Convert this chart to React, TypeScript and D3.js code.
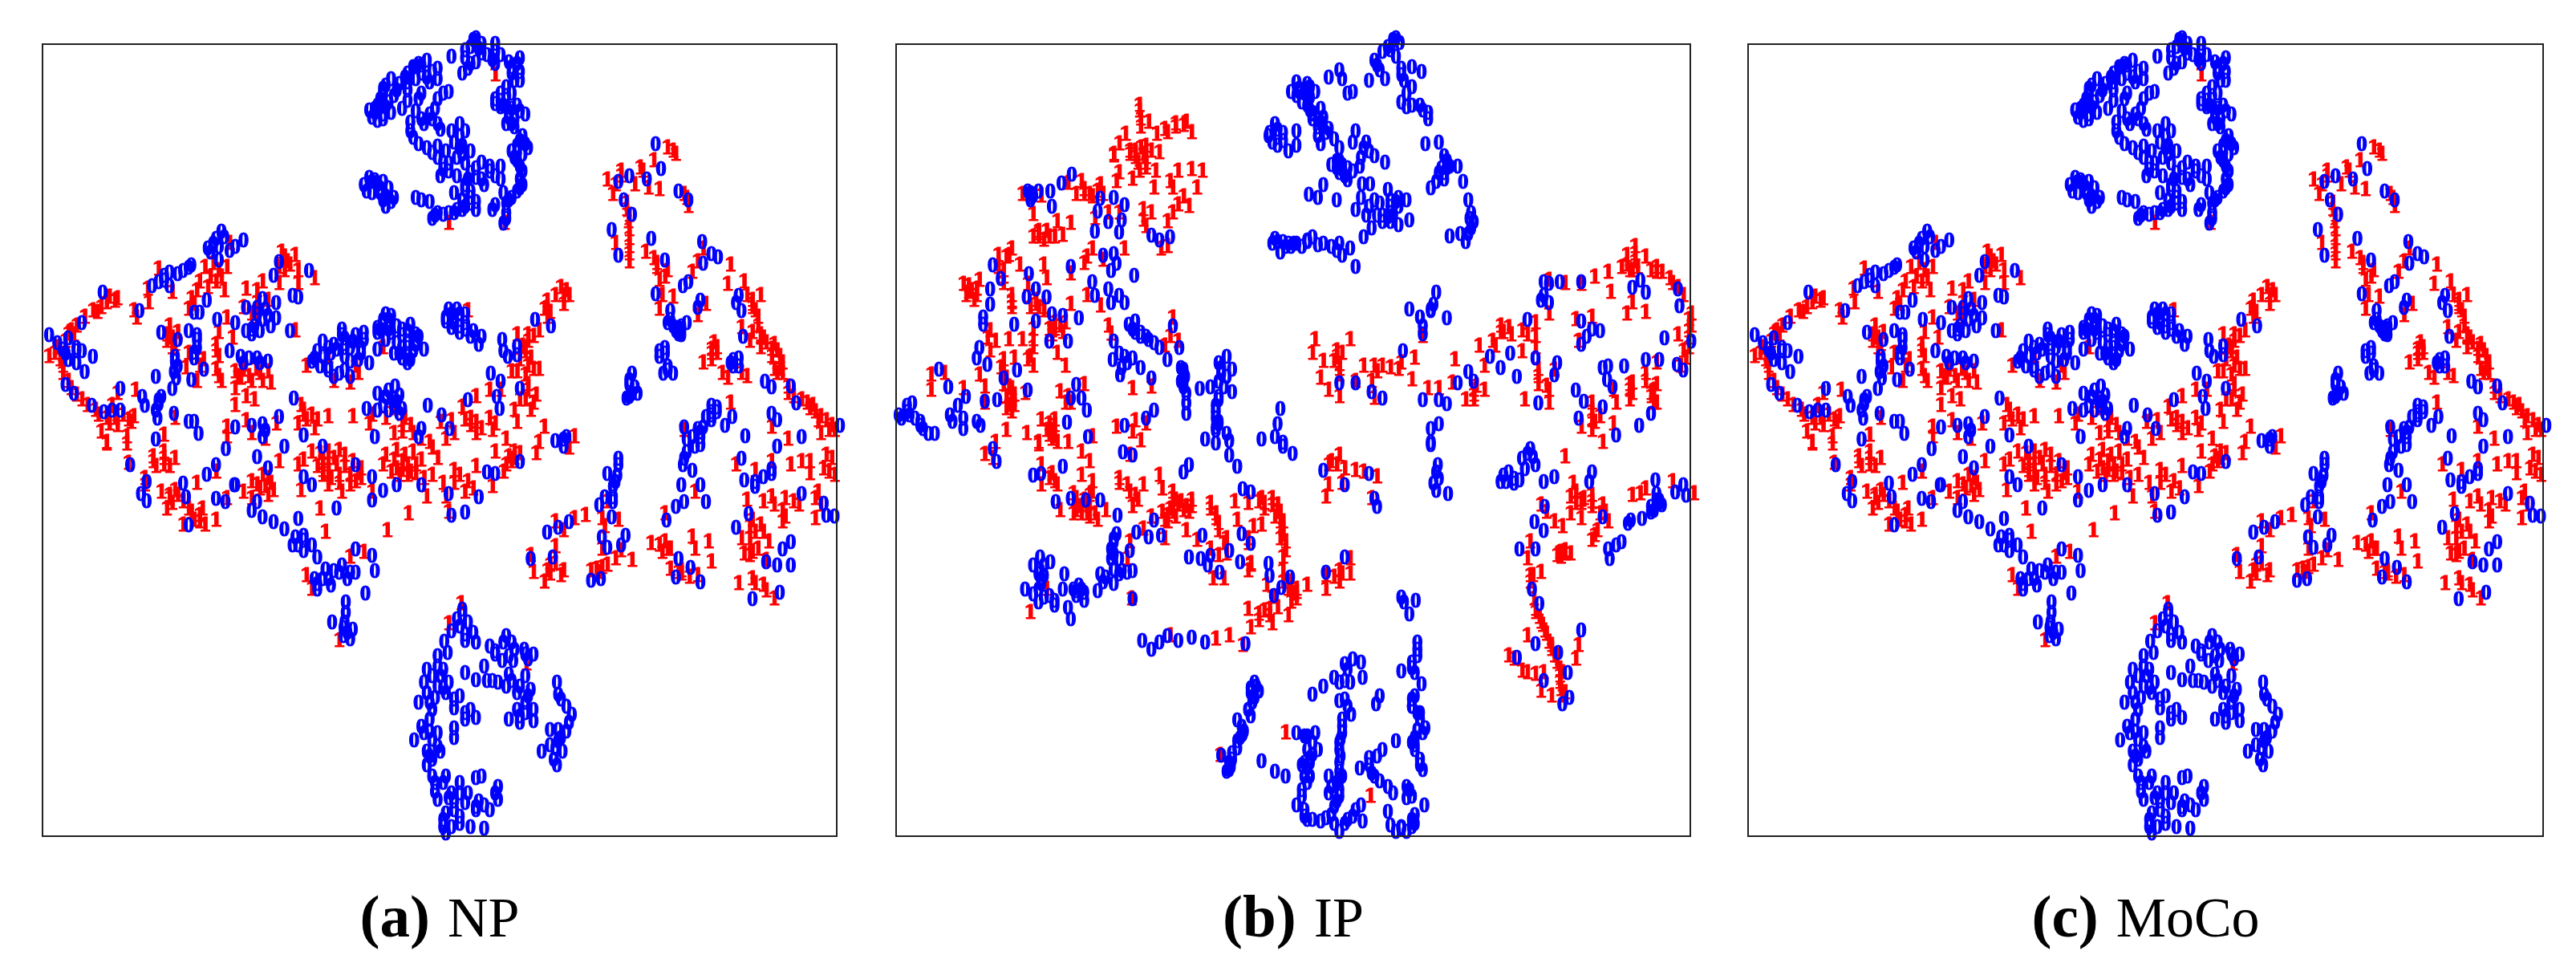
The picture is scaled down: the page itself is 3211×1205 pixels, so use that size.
import React from 'react';
import * as d3 from 'd3';

// t-SNE points. There are no axes, so the units are just
// reading units: "Up" lists cover the top of a panel, "Low" lists the bottom.
type P = [number, number];

const npZeroUp: P[] = [[870,120],[860,150],[880,140],[905,140],[850,185],[880,170],[900,190],[825,180],[855,220],[845,235],[930,200],[950,185],[950,230],[935,235],[905,165],[780,195],[755,215],[770,235],[800,220],[800,255],[740,250],[715,255],[700,300],[720,310],[690,340],[675,355],[700,370],[690,390],[735,350],[745,290],[770,300],[820,295],[800,320],[795,350],[770,385],[750,395],[790,385],[750,425],[765,465],[800,475],[805,420],[825,425],[850,425],[840,400],[830,460],[860,490],[835,510],[800,510],[810,550],[805,570],[835,570],[880,525],[860,560],[880,580],[915,540],[915,580],[885,600],[950,260],[925,280],[935,300],[905,320],[920,340],[950,360],[930,380],[940,410],[955,440],[945,470],[965,480],[935,490],[945,520],[955,555],[955,600],[935,640],[920,625],[900,680],[925,690],[920,725],[850,600],[860,640],[850,670],[870,655],[830,625],[820,690],[795,700],[770,650],[760,640],[785,655],[680,590],[665,600],[700,590],[680,625],[710,610],[720,640],[705,670],
[405,750],[395,775],[380,805],[400,800],[430,800],[445,780],[420,815],[350,860],[335,880],[310,885],[300,910],[290,915],[310,930],[278,930],[400,845],[565,880],[510,850],[500,895],[188,950],[255,1010],[378,975],[365,1015],[355,1015],[535,960],[545,965],[505,985],[480,970],[470,1000],[450,1000],[490,1025],[505,1035],[480,1040],[465,1060],[460,1085],[495,1060],[430,1050],[397,1040],[530,1075],[150,1050],[125,1100],[105,1115],[90,1090],[140,1130],[150,1140],[120,1150],[170,1160],[140,1180],[155,1210],[120,1250],[135,1280],[168,1320],[295,1080],[325,1105],[345,1075],[360,1090],[360,1130],[355,1165],[320,1160],[325,1190],[322,1230],[350,1235],[373,1200],[420,1140],[440,1160],[455,1165],[475,1180],[490,1175],[285,1225],[220,1265],[260,1290],[295,1290],[290,1315],[315,1265],[318,1345],[265,1320],[220,1335],[190,1340],[288,1360],[345,1370],[355,1370],[363,1410],[285,1430],[510,1355],[537,1295],[460,1385],[480,1380],[485,1400],[430,1390],[555,1415],[480,1420],
[625,1070],[590,1110],[610,1120],[580,1140],[575,1165],[585,1190],[600,1190],[630,1100],[650,1090],[665,1080],[640,1130],[660,1130],[690,1135],[605,1150],[630,1160],[655,1170],[675,1180],[620,1215],[640,1225],[600,1205],[695,1070],[705,1020],[715,1025],[700,1055],[690,1080],[725,1060],[750,1055],[760,1085],[735,1090],[705,1105],[735,1130],[720,1150],[745,1160],[755,1140],[775,1135],[745,1180],[765,1095],
[820,1005],[835,1005],[850,1020],[815,1045],[830,1040],[850,1050],[825,1065],[840,1080],[865,1075],[860,1095],[880,1095],[875,1120],
[918,1105],[920,1140],[945,1125],[945,1155],[928,1160],[978,1040],[1007,1060],[897,1215],[915,1240],[950,1265],[855,1300],[908,1290],[913,1330],[782,1320],[670,1330],[690,1280],[710,1270],[722,1255],[730,1285],[700,1320],[720,1320],[730,1345],[690,1335],[807,1350],[822,1395],[1030,1430],[1035,1420],[1015,1435],[765,1420],[770,1395],[685,1420],
[1198,465],[1208,548],[1150,570],[1130,590],[1182,580],[1140,650],[1155,695],[1118,745],[1130,830],[1190,775],[1215,845],[1283,785],[1300,825],[1312,835],[1285,855],[1258,915],[1248,930],[1198,955],[1225,1010],[1220,1050],[1230,1060],[1245,1070],[1255,1050],[1245,1090],[1275,1000],[1280,975],[1350,960],[1345,985],[1355,1010],[1358,1095],[1215,1130],[1205,1160],[1220,1190],[1230,1215],[1212,1215],[1155,1215],[1150,1250],[1155,1280],[1145,1295],[1165,1280],[1340,1170],[1350,1190],[1335,1180],[1398,1240],[1410,1260],[1445,1255],[1410,1345],[1420,1365],[1455,1310],[1300,1320],[1310,1340],[1300,1365],[1285,1390],[1280,1420],[1338,1355],[1325,1385],[1362,1418],[1250,1390],[1465,1420],[1535,1385],[1240,1065],[1258,650],[1240,620],
[865,125],[875,155],[890,175],[850,160],[870,200],[860,205],[915,175],[905,205],[945,205],[935,215],[765,205],[745,235],[760,255],[780,250],[790,230],[785,265],[730,270],[705,275],[695,320],[710,330],[685,365],[705,345],[680,380],[765,320],[745,325],[810,300],[760,360],[785,370],[775,400],[800,400],[755,445],[780,480],[790,495],[815,490],[840,480],[845,500],[820,530],[850,530],[870,545],[895,555],[905,570],[870,575],[935,350],[925,310],[915,325],[905,335],[930,360],[940,385],[925,400],[945,495],[960,465],[940,510],[950,580],[945,620],[925,660],[860,620],[845,650],[870,680],[835,680],[810,695],[790,710],[800,690],[675,575],[690,600],[670,620],[695,625],[700,650],[715,655],
[140,1140],[115,1135],[125,1170],[390,790],[385,820],[410,770],[345,870],[325,890],[300,895],[470,1020],[485,1005],[460,1070],[475,1075],[450,1075],[360,1105],[355,1145],[320,1175],[318,1210],[445,1180],[470,1165],[205,1335],[290,1300],[285,1335],
[600,1130],[615,1135],[590,1160],[570,1175],[630,1130],[645,1110],[660,1150],[640,1175],[665,1105],[625,1090],[610,1225],[630,1205],[700,1040],[710,1040],[690,1065],[715,1080],[710,1070],[735,1070],[745,1075],[745,1110],[725,1115],[730,1150],[745,1130],[760,1120],[735,1165],[750,1170],[825,1020],[840,1020],[815,1030],[840,1060],[850,1070],[830,1050],[720,1295],[705,1290],[725,1305],[735,1330],[710,1335],
[1245,1060],[1235,1075],[1225,1040],[1150,1235],[1160,1260],[1150,1290],[1215,1150],[1340,1190],[1350,1165],[1300,1340],[1290,1355],[1310,1325],[1280,1405],[1265,1420],[1255,1430],
[840,440],[845,470],[810,525],[820,555],[855,580],[895,540],[940,260],[915,300],[915,345],[945,340],[960,370],[935,400],[950,455],[955,500],[950,540],[950,610],[930,650],[905,665],[925,710],[760,215],[770,210],[745,265],[725,290],[700,285],[685,350],[715,365],[700,385],[695,610],[685,585],[705,635],[850,615],[860,660],[845,680],[830,690],
[1240,1085],[1300,1350],[1275,1395],[1205,1140],[1220,1205]];

const npOneUp: P[] = [[820,725],[922,725],[905,240],[200,965],[210,980],[185,1000],[178,1015],[155,1030],[130,1075],[135,1090],[120,1110],[105,1130],[90,1160],[110,1170],[115,1215],[130,1265],[150,1300],[160,1320],[180,1350],[210,1360],[200,1380],[235,1365],[185,1405],[195,1440],[232,1420],[245,1010],[250,1035],[270,940],[272,985],[290,875],[315,950],[390,855],[415,870],[375,870],[365,915],[395,915],[410,945],[350,970],[345,1005],[380,935],[420,790],[515,820],[525,850],[540,830],[510,870],[545,880],[575,905],[545,920],[510,920],[480,915],[470,945],[450,940],[490,975],[445,1000],[470,1030],[400,1080],[425,1100],[415,1035],[310,1060],[325,1080],[305,1110],[315,1130],[395,1120],[400,1160],[345,1150],[372,1170],[320,1200],[340,1195],[360,1240],[400,1225],[445,1205],[468,1200],[430,1210],[490,1210],[495,1245],[460,1240],[430,1265],[450,1290],[465,1300],[430,1320],[540,1075],[550,1320],[555,1350],[545,1380],[580,1365],[600,1355],[575,1395],[645,1355],[215,1280],[248,1270],[205,1320],[245,1355],[240,1375],[320,1360],[300,1415],[415,1390],[415,1420],[450,1370],[460,1410],[505,1380],[485,1430],
[600,1160],[650,1190],[700,1130],[655,1215],[610,1240],[640,1245],[560,1190],[680,1350],[675,1380],[715,1305],[735,1385],[720,1410],[740,1360],[755,1410],[770,1430],[785,1440],[845,1325],[870,1290],[895,1270],[915,1270],[805,1375],[825,1370],[860,1385],[870,1410],[900,1400],[925,1430],[945,1375],[895,1360],[830,1410],[815,1430],[985,1200],[965,1110],[975,1095],[945,1090],[960,1145],[970,1165],[935,1210],[960,1220],[965,1250],[980,1285],[950,1300],[970,1335],[940,1335],[995,1005],[1000,980],[1025,935],[1040,960],[1030,990],[1000,1030],[985,1075],[855,1010],[1050,1420],[995,1390],[985,1440],
[1220,480],[1235,500],[1195,520],[1170,545],[1135,555],[1110,585],[1120,630],[1160,600],[1205,615],[1185,610],[1250,630],[1258,670],[1145,660],[1150,700],[1150,745],[1125,790],[1150,800],[1150,850],[1180,820],[1195,840],[1200,870],[1220,880],[1205,910],[1210,960],[1230,965],[1205,1005],[1290,990],[1275,1025],[1285,810],[1275,850],[1265,885],[1335,860],[1330,925],[1360,915],[1365,960],[1390,960],[1375,990],[1385,1030],[1355,1065],[1375,1080],[1390,1090],[1400,1115],[1310,1130],[1300,1150],[1285,1180],[1320,1215],[1365,1225],[1420,1140],[1430,1180],[1415,1200],[1440,1260],[1450,1290],[1475,1310],[1490,1340],[1510,1370],[1525,1400],[1500,1410],[1250,1400],[1335,1310],[1410,1390],[1440,1430],
[195,985],[215,970],[170,1010],[140,1060],[125,1085],[100,1150],[115,1190],[125,1240],[140,1285],[175,1335],[195,1360],[225,1350],[215,1385],[520,835],[530,860],[520,880],[400,880],[405,900],[385,900],[360,945],[355,990],[470,985],[460,1020],[315,1100],[395,1140],[440,1230],[475,1215],[480,1240],[555,1335],[570,1350],[560,1365],[965,1090],[955,1125],[950,1170],[965,1190],[965,1270],[975,1310],[1005,1015],[1035,945],[1015,960],[860,1360],[870,1375],[1145,680],[1148,720],[1150,775],[1150,825],[1200,855],[1215,900],[1375,975],[1380,1010],[1395,1100],[1415,1120],[1425,1160],[1420,1215],[1465,1300],[1485,1320],[1500,1355],[1520,1385],[1305,1115],[1300,1135],[1135,570],[1125,600],[1175,555],[1230,490],[1255,645],
[310,1090],[320,1120],[305,1090],[365,1190],[395,1200],[405,1240],[435,1225],[455,1225],[720,1330],[705,1360],[735,1405],[750,1385],[850,1365],[880,1395],[905,1380],[960,1130],[945,1210],[975,1200],[960,1300],[1000,1000],[1030,960],[1390,1100],[1410,1135],[1425,1200],[1480,1330],[1495,1370],[1515,1400],
[1375,1000],[1385,1060],[1370,1110],[1390,1130],[1410,1160],[1430,1215],[1300,1170],[1310,1150],[1330,1230],[1355,1215],[1440,1280]];

const npZeroLow: P[] = [[238,68],[268,120],[258,155],[335,125],[268,178],[340,165],[378,97],[395,70],[428,130],[490,78],[470,45],[413,20],[520,15],[555,105],[570,130],[590,15],[615,198],[650,70],[680,105],[680,175],[700,145],[725,130],[770,130],[820,155],[875,165],[825,220],[850,210],[890,90],[905,95],[950,60],[1030,15],[555,280],[535,310],[555,325],[580,345],[500,240],[520,260],[480,225],[460,205],[545,230],[430,130],[412,180],[395,170],[345,250],[470,180],
[650,320],[680,340],[685,385],[625,370],[610,385],[595,380],[575,410],[580,440],[605,430],[635,410],[650,390],[668,452],[632,480],[632,510],[607,540],[628,555],[645,560],[640,590],[628,580],
[1130,50],[1128,100],[1110,95],[1120,135],[1105,165],[1095,190],[1120,165],[1118,225],[1143,280],[1100,285],[1135,310],[1110,315],[1010,345],[970,350],[1000,270],[1020,255],[1040,240],[1098,410],[1080,415],
[1280,10],[1250,50],[1265,85],[1245,130],[1280,130],[1290,180],[1250,180],[1235,195],[1218,235],[1240,350],[1262,375],[1235,405],[1280,420],
[1355,50],[1360,115],[1380,135],[1410,80],[1395,105],[1420,15],[1465,155],[1505,185],[1510,220],[1525,222],[1345,255],[1368,215],[1445,300],[1430,320],[1420,370],[1445,370],[1400,360],[1375,470],[1425,450],
[845,500],[835,530],[855,540],[865,570],[825,565],[850,595],[870,600],[812,597],[895,610],[905,625],[925,580],[935,600],[958,620],[975,635],[938,655],[918,655],[905,635],[965,650],
[818,630],[800,640],[810,680],[780,680],[775,720],[805,700],[820,720],[815,750],[795,765],[765,780],[840,760],[830,795],[860,800],[870,825],[850,830],[790,800],[785,830],
[850,690],[885,670],[870,712],[890,715],[910,720],[930,695],[925,730],[945,750],[960,700],[970,740],[960,780],[975,800],[945,800],[930,830],[950,840],[975,835],
[1018,720],[1020,755],[1035,790],[1045,815],[1035,865],[1005,860],[1020,895],[1005,905],[1028,925],[990,925],[1012,950],[1018,965],
[770,850],[785,865],[800,870],[757,892],[830,855],[830,885],[780,925],[790,950],[780,965],[805,925],
[790,1000],[815,1000],[840,1020],[795,1045],[825,1050],[855,1050],[800,1070],[830,1075],[875,1075],[910,1030],[910,1070],[880,1000],[870,1005],[895,1100],[870,1100],[840,1120],[810,1130],[825,1150],[860,1150],[885,1155],[815,1170],
[1130,70],[1125,120],[1120,180],[1248,70],[1255,30],[1270,15],[555,295],[540,285],[570,310],[545,310],[620,390],[590,410],[600,410],[580,425],[640,390],[630,540],[635,570],[1410,95],[1380,120],
[845,515],[840,550],[850,575],[920,600],[940,620],[930,640],[960,635],[800,670],[790,700],[800,730],[810,735],[780,750],[785,780],[830,770],[850,810],[900,715],[935,715],[950,730],[965,760],[960,810],[950,820],[1025,770],[1040,840],[1020,860],[1025,885],[1015,915],[775,870],[790,890],[800,910],[785,940],[795,1020],[810,1020],[820,1065],[840,1050],[850,1080],[870,1090],[885,1085],[905,1050],[830,1100],[840,1140],[815,1110],[810,1150]];

const npOneLow: P[] = [[195,8],[232,8],[235,65],[280,60],[320,50],[300,70],[265,110],[265,130],[310,170],[325,160],[305,200],[345,200],[365,220],[375,250],[395,235],[335,250],[360,125],[395,90],[415,170],[460,120],[490,110],[500,145],[460,170],[510,60],[545,70],[555,55],[590,60],[610,50],[630,40],[590,100],[600,130],[550,145],[640,130],[660,80],[660,110],[625,150],[680,150],[720,55],[740,40],[760,70],[715,90],[745,100],[790,20],[800,50],[830,85],[870,75],[830,125],[850,150],[820,210],[747,215],[780,165],[900,135],[940,50],[925,70],[905,30],[980,35],[1040,20],
[585,200],[595,270],[640,345],[665,330],[560,400],[570,440],[620,595],[708,265],[843,483],[820,545],[962,665],
[1015,240],[1030,265],[1050,230],[1070,220],[1015,315],[1100,230],[1130,235],[1105,255],[970,340],[975,390],[1000,385],[1025,400],[995,420],[1015,365],[1080,385],[1100,375],[1125,350],[1155,355],[1110,180],[1100,320],[1135,325],
[1190,305],[1215,300],[1210,330],[1265,285],[1295,300],[1270,320],[1225,380],[1245,395],[1275,400],[1300,360],[1215,215],[1270,150],
[1345,70],[1380,85],[1410,60],[1445,70],[1480,60],[1510,40],[1525,100],[1495,150],[1490,230],[1365,175],[1410,165],[1430,205],[1460,190],[1370,255],[1395,270],[1355,290],[1430,240],[1360,335],[1385,320],[1400,355],[1350,425],[1375,410],[1395,430],[1415,470],
[300,50],[285,75],[310,160],[315,185],[350,210],[365,240],[470,130],[485,135],[495,125],[600,70],[590,85],[615,70],[605,110],[620,125],[650,120],[640,100],[735,60],[725,80],[745,70],[750,90],[730,100],[940,30],[935,60],[1005,395],[1095,390],[1110,370],[1205,310],[1225,320],[1245,385],[1260,405],[1520,50],[1505,80],[1415,190],[1380,270],[1370,290],[1380,425],[1400,445],[1435,225],
[570,30],[585,35],[600,30],[620,25],[580,75],[600,85],[630,75],[645,60],[655,95],[620,100],[700,70],[705,40],[725,25],[755,30],[770,55],[735,85],[760,95],[775,110],[790,100],[810,125],[840,100],[855,120],[865,140],[815,165],[300,30],[280,45],[310,75],[295,150],[320,145],[335,180],[355,235],[370,200],[480,100],[475,140],[490,160],[445,150],[930,45],[950,35],[920,90],
[1375,235],[1390,250],[1405,300],[1375,330],[1370,340],[1395,180],[1435,170],[1450,180],[1490,170],[1500,190],[1515,90],[1465,60],[1480,95],[1220,320],[1240,390],[1030,385],[1005,370],[1090,380]];

const ipZeroUp: P[] = [[955,120],[940,150],[962,135],[955,180],[915,195],[925,225],[935,255],[965,220],[985,215],[1003,230],[970,260],[985,280],[965,330],[985,340],[1000,340],[1015,365],[1015,385],
[850,225],[830,250],[855,255],[875,295],[865,300],[905,260],[790,270],[770,265],[760,295],[785,300],[805,295],[780,330],[795,355],[815,350],[820,380],[800,385],[810,410],[810,440],[830,415],[840,450],[815,465],[850,480],
[880,425],[875,460],[895,480],[890,510],[915,505],[935,525],[850,520],[835,535],[865,545],[850,560],[875,555],[865,585],[888,540],[892,597],[907,597],
[730,400],[718,440],[745,430],[735,470],[755,490],[770,470],[770,425],[793,630],[820,600],[810,640],[845,650],
[1010,465],[1035,460],[1045,505],[1055,540],[1035,560],[1030,590],[1070,540],[1080,590],[1020,610],
[940,615],[915,650],[890,640],[880,680],[900,700],[975,650],[960,670],[945,690],[930,720],[960,730],[980,715],[910,740],[895,770],
[1090,650],[1095,690],[1100,720],[1090,760],[1075,760],[1085,785],[1055,768],
[730,775],[750,800],[770,790],[800,770],[820,790],[850,790],[870,805],[855,830],[880,865],[740,820],
[1030,950],[1025,990],[1000,1030],[1020,1010],[980,1005],[1050,1035],[1005,1085],[1230,915],[1260,915],[1300,915],[1230,960],[1240,985],[1410,910],[1395,935],[1420,950],[1480,940],[1483,995],
[270,620],[290,620],[275,650],[315,670],[312,620],[333,595],[352,565],[430,640],[405,645],[400,685],[420,720],[450,665],[445,715],[395,750],[440,755],[500,765],[515,780],[535,770],
[205,860],[220,905],[272,890],[350,865],[410,830],[430,825],[425,880],[435,855],[468,895],[390,915],[420,940],[395,960],[440,960],[425,985],[450,985],[285,940],[268,965],[200,940],[200,990],[305,965],
[187,1030],[187,1055],[245,1055],[285,1045],[315,1020],[335,1025],[365,1035],[345,1110],[310,1110],
[470,1045],[458,1055],[480,1080],[495,1105],[515,1130],[430,1110],[428,1170],[450,1160],[465,1165],[445,1195],[480,1195],[500,1230],[442,1220],[552,1130],[540,1060],
[180,1130],[175,1165],[195,1185],[225,1230],[250,1205],[270,1270],[360,1250],
[530,1170],[555,1195],[560,1240],[565,1280],[590,1265],[610,1260],[640,1160],[625,1180],[650,1200],[630,1215],[635,1260],[650,1275],[625,1290],[620,1320],[565,1310],[565,1345],[505,1335],[625,1370],[620,1390],[600,1430],[645,1435],
[30,1350],[55,1310],[45,1340],[70,1370],[85,1410],[97,1410],[125,1350],[140,1320],[150,1360],[175,1370],[150,1395],[182,1385],
[105,1200],[122,1260],[155,1290],[190,1305],[213,1300],[350,1295],[370,1295],[380,1335],[343,1375],[382,1420],[450,1385],[490,1360],
[740,1330],[735,1380],[730,1420],[705,1430],[745,1440],[1035,1380],[1020,1395],[1020,1440],
[1290,1270],[1305,1305],[1340,1325],[1295,1360],[1365,1415],[1408,1385],[1430,1345],
[1350,1190],[1340,1195],[1380,1190],[1420,1170],[1445,1170],[1348,1235],[1358,1260],[1478,1185],[1490,1205],[1455,1100],[1505,1110],
[1255,1180],[1250,1220],[1215,1165],[1180,1225],[1150,1195],[1130,1160],[1090,1210],[1070,1245],[1100,1240],[1005,1300],[1035,1300],[1050,1315],[1220,1310],
[1300,1045],[1320,1070],[1335,1075],[1310,1095],[1300,1120],[1168,1150],[1200,1040],[968,1140],[880,1245],[910,1275],[930,1295],[850,1245],
[930,165],[950,125],[945,160],[920,210],[965,240],[975,300],[975,345],[1005,355],[775,285],[795,280],[770,310],[795,315],[790,340],[800,370],[815,395],[825,430],[845,520],[855,535],[860,570],[845,545],[735,420],[725,460],[745,455],[905,490],[900,460],[1050,520],[1040,545],[1045,580],[925,660],[905,670],[945,650],[960,640],[920,700],[945,720],[1092,710],[1095,740],[745,785],[765,790],[790,785],[810,795],[835,800],[845,815],[725,790],[465,1070],[490,1095],[505,1115],[440,1150],[455,1180],[560,1215],[560,1260],[630,1195],[640,1225],[625,1240],[620,1340],[620,1360],[640,1410],[45,1320],[35,1360],[60,1360],[75,1395],[130,1370],[275,625],[280,635],[1240,920],[1225,975],
[1020,1005],[1005,1060],[800,365],[810,385],[790,300],[775,295],[790,780],[780,800],[760,800],[755,790],[735,785],[950,700],[940,705],[930,700],[945,670],[955,655],[1045,560],[1050,545],[855,550],[850,540],[720,430],[735,445],[470,1080],[480,1095],[560,1200],[555,1240],[563,1225],[625,1300],[625,1380],[620,1400],[50,1350],[70,1385],[275,640]];

const ipOneUp: P[] = [[478,340],[480,385],[495,395],[510,435],[525,420],[545,410],[565,395],[575,430],[452,435],[440,465],[430,505],[480,480],[470,510],[500,490],[490,530],[515,495],[508,555],[478,555],[440,560],[465,580],[435,590],
[550,555],[575,550],[595,555],[535,590],[540,610],[585,610],[505,610],[560,640],[550,665],[570,670],[500,690],[540,690],[485,680],[485,715],[490,735],[530,720],[530,800],[518,810],
[345,595],[370,590],[360,630],[385,630],[405,600],[410,630],[260,630],[295,635],[280,695],[325,720],[350,725],[290,750],[280,770],[310,770],[335,765],[395,710],[420,690],[440,690],
[450,810],[390,810],[380,835],[375,855],[410,845],[350,890],[240,810],[230,835],[215,830],[255,860],[300,860],[305,905],[225,880],[160,930],[180,910],[155,960],[270,925],[240,960],[240,1000],[285,990],[300,1000],[350,990],[380,960],[405,995],[170,975],
[420,1060],[425,1085],[200,1075],[210,1110],[235,1105],[260,1105],[280,1070],[310,1070],[330,1060],[340,1050],[280,1105],[200,1140],[245,1165],[275,1160],[325,1150],[340,1190],[280,1190],
[220,1195],[225,1250],[180,1220],[190,1260],[240,1265],[265,1280],[235,1320],[240,1340],[190,1310],[90,1220],[115,1215],[90,1270],[150,1265],
[330,1275],[340,1310],[375,1250],[295,1365],[320,1365],[315,1400],[315,1430],[290,1440],[230,1400],[268,1410],[210,1440],[390,1420],[345,1440],
[435,1390],[470,1370],[490,1380],[465,1405],[480,1435],[525,1125],[535,1095],[465,1265],[500,1260],[550,1110],[540,1035],
[805,1105],[800,1150],[820,1175],[845,1140],[870,1105],[850,1185],[815,1230],[850,1220],[830,1270],[850,1290],[880,1240],[895,1190],[915,1190],[945,1195],[965,1180],[990,1165],[985,1235],[910,1240],[915,1295],
[1015,1265],[1035,1265],[1060,1245],[1065,1170],[1100,1270],[1120,1270],[1100,1300],[1110,1125],[1135,1110],[1150,1060],[1170,1090],[1190,1075],[1215,1050],[1215,1095],[1240,1020],[1215,1130],[1120,1190],[1190,1145],[1220,1200],[1220,1250],[1240,1270],[1195,1300],[1240,1310],[1005,1095],[1250,1205],[1290,1040],[1320,1030],[1295,1110],
[1240,910],[1270,920],[1300,925],[1325,900],[1350,885],[1375,870],[1400,800],[1400,850],[1420,835],[1395,880],[1430,880],[1450,885],[1470,920],[1490,960],[1355,950],[1385,1020],[1420,1015],[1395,985],[1505,1020],[1505,1060],[1500,1100],[1480,1090],[1490,1140],[1485,1190],[1440,1180],
[1420,1215],[1390,1250],[1360,1270],[1440,1250],[1390,1300],[1435,1310],[1365,1310],[1320,1310],[1335,1355],[1300,1390],[1320,1400],[1340,1440],[1360,1380],
[478,360],[480,410],[485,500],[470,490],[460,490],[490,510],[545,400],[530,430],[560,405],[400,620],[375,615],[290,760],[300,780],[305,750],[235,830],[160,950],[175,940],[225,900],[240,980],[285,975],[320,1050],[315,1090],[225,1215],[230,1290],[240,1300],[320,1385],[310,1415],[325,1440],[845,1160],[850,1200],[920,1210],[960,1200],[1150,1080],[1165,1065],[1100,1285],[1220,1225],[1235,1255],[1400,825],[1385,860],[1440,870],[1465,905],[1500,1040],[1500,1130],[1390,1270],[1430,1290],[1320,1340],[1325,1375],
[470,500],[490,475],[475,530],[490,545],[195,1100],[230,1230],[235,1260],[245,1285],[230,1330],[310,1380],[305,1400],[320,1420],[1390,880],[1385,830],[1405,870],[1440,885],[1480,935],[1500,1075],[1495,1165],[1395,1280],[1430,1280],[1440,1310],
[150,925],[165,945],[175,960],[215,870],[225,920],[240,985],[275,1000],[290,1000],[300,1010],[320,1070],[335,1080],[315,1075],[280,1130],[270,1170],[225,1170],[240,1290],[245,1320],[345,1290],[350,1310],[375,630],[390,640],[290,770],[320,770],[460,500],[430,500],[840,1175],[855,1150],[930,1190],[1105,1255],[1085,1300],[1200,1090],[1155,1080],[1140,1125],[1395,1245],[1420,1240],[1435,1270],[1320,1370]];

const ipZeroLow: P[] = [[205,20],[212,60],[447,30],[465,40],[560,90],[570,70],[620,5],[645,40],[660,75],[745,15],[763,35],[820,85],[860,130],[905,95],[915,170],[920,195],[1020,10],[1033,70],[1035,110],[1030,145],[1052,155],
[1150,120],[1165,90],[1185,115],[1190,50],[1205,20],[1215,70],[1230,120],[1250,105],[1320,90],[1315,120],[1340,225],
[1438,115],[1440,155],[1450,190],[1430,210],[1413,230],[1392,235],[1387,245],[1475,150],[1495,160],[1490,130],[1375,300],[1365,310],[1350,320],[1353,350],
[1232,195],[1213,240],[1230,265],[1185,320],[1215,320],[1208,440],[1222,485],[1215,605],[1257,630],[1275,690],[1300,563],[1180,645],[1230,715],[1278,765],[1265,785],
[280,100],[295,95],[335,75],[322,180],[350,170],[378,175],[405,175],[437,220],[505,235],[472,270],[495,285],[518,280],
[435,275],[430,300],[425,320],[460,325],[425,350],[440,350],[445,385],[465,385],[430,380],[405,395],[410,420],[430,425],[400,445],
[570,345],[592,350],[610,340],[605,370],[627,390],[665,360],[718,365],[720,400],[685,305],[668,275],[645,325],[595,280],[742,435],[758,405],[728,460],
[293,345],[280,370],[300,370],[312,360],[295,410],[338,395],[265,440],[290,440],[310,460],[335,440],[365,430],[375,450],[375,475],[345,495],[320,490],[350,530],[290,480],
[465,470],[483,595],[500,620],[515,600],[530,580],[550,595],[575,585],[600,600],[675,605],[670,140],[685,150],[860,345],[825,390],
[970,480],[992,475],[980,515],[965,465],[995,600],[995,640],[965,685],[990,690],[1003,723],[985,660],
[860,665],[875,650],[890,660],[860,715],[840,705],[870,720],[893,705],[820,730],[800,755],
[692,720],[685,735],[700,745],[688,780],[685,820],[660,832],[672,865],[660,915],[650,950],[645,980],[630,938],[705,955],
[925,760],[918,785],[850,775],[865,790],[872,815],[855,850],[852,890],[850,920],
[990,760],[985,790],[1000,830],[1010,855],[990,885],[990,920],[1000,950],[1005,980],
[770,870],[785,880],[805,870],[800,900],[810,920],[795,945],[790,975],[780,965],[795,1000],[750,1000],[730,985],
[955,895],[930,920],[905,945],[920,940],[888,975],[910,990],[925,1015],[940,1030],[950,1050],
[850,960],[855,1000],[830,1000],[850,1040],[830,1050],[845,1075],[980,1040],[975,1065],[1008,1085],[940,1105],
[780,1040],[780,1060],[785,1100],[790,1130],[815,1135],[835,1115],[840,1140],[850,1165],[865,1130],[880,1100],[893,1135],[890,1085],[945,1145],[955,1165],[985,1150],[990,1115],[975,1165],
[1025,125],[1030,90],[1175,110],[1195,80],[1210,45],[1445,175],[1430,195],[292,380],[295,425],[280,455],[300,465],[320,475],[370,440],[360,460],[430,290],[430,335],[415,405],[440,395],[455,390],[995,620],[985,675],[865,680],[850,720],[690,760],[680,800],[668,850],[665,885],[650,930],[648,970],[860,770],[855,830],[855,870],[850,900],[852,940],[985,770],[995,810],[995,860],[985,900],[1000,965],[790,880],[790,920],[785,1000],[790,1020],[850,985],[845,1020],[835,1030],[905,965],[915,1000],[770,1085],[785,1120],[800,1130],[825,1125],[860,1140],[875,1120],[965,1155],[985,1130],[975,1030],[985,1060],
[685,750],[695,730],[692,765],[670,875],[660,895],[645,960],[640,985],[1000,810],[1005,870],[985,790],[990,905],[795,960],[800,935],[785,960],[850,1010],[850,1060],[840,1090],[300,400],[290,395],[360,445],[355,440],[1445,185],[1435,205],[1440,175],[1200,35],[1175,125],[1160,120],[1155,100],[965,1150],[990,1140]];

const ipOneLow: P[] = [[190,38],[205,50],[290,10],[295,70],[315,95],[320,120],[295,130],[370,30],[385,60],[370,100],[390,120],[440,110],[455,130],[485,130],[470,160],[515,100],[460,40],
[355,155],[385,160],[365,195],[380,215],[400,235],[330,205],[415,205],[465,195],[500,225],[485,260],
[520,140],[540,150],[550,190],[575,175],[530,220],[530,240],[570,210],[565,265],[525,290],[460,300],[455,350],
[610,185],[620,230],[655,180],[680,185],[705,170],[725,170],[740,210],[710,200],[690,255],[660,235],[625,265],[585,295],[610,320],[635,305],[640,335],[680,290],[705,250],[745,260],[750,300],[745,345],
[685,365],[680,385],[615,410],[635,410],[745,385],[715,430],[755,420],[790,430],[770,470],[725,465],[760,480],[680,500],[710,505],[735,495],[755,520],[725,545],[700,535],[685,555],
[535,580],[620,590],[645,580],[670,610],[275,510],[305,440],[463,470],
[835,60],[850,40],[860,80],[895,90],[920,105],[830,130],[825,165],[855,125],[910,170],[870,350],[850,385],[825,400],[870,395],[850,420],[825,440],
[1225,190],[1235,210],[1250,240],[1265,255],[1280,215],[1300,230],[1290,150],[1285,125],[1270,45],[1320,160],[1300,185],[1340,190],[1350,240],[1330,265],[1320,295],[1395,160],[1420,140],[1470,120],[1510,155],[1270,330],[1255,340],[1280,335],
[1205,300],[1200,350],[1205,400],[1225,390],[1215,500],[1228,550],[1240,600],[1250,640],[1200,580],[1165,640],[1190,685],[1215,695],[1230,690],[1260,680],[1260,720],[1265,760],[1245,760],[1295,610],[1290,650],[1225,745],
[628,938],[750,870],[908,1060],
[310,110],[325,130],[360,170],[385,185],[395,215],[540,170],[555,180],[535,200],[565,195],[625,245],[710,185],[735,190],[730,225],[740,240],[745,280],[755,440],[765,455],[770,440],[720,500],[830,70],[845,70],[880,85],[855,395],[840,405],[1305,170],[1320,195],[1335,215],[1325,280],[1210,400],[1205,420],[1212,470],[1222,525],[1235,575],[1245,620],[1255,660],[1260,700],[1200,690],[1175,650],[1270,750],[1270,335],[1262,345],[1410,155],
[540,210],[560,205],[545,225],[575,195],[545,175],[610,200],[620,215],[700,180],[725,190],[735,210],[745,240],[740,290],[750,325],[770,450],[760,440],[700,515],[720,520],[1215,510],[1225,540],[1232,565],[1245,610],[1255,640],[1265,690],[1262,740],[1300,175],[1320,180],[380,190],[375,175],[390,150],[370,215],[1270,325],[1260,330],
[440,125],[460,150],[475,175],[360,205],[355,215],[385,225],[520,210],[525,235],[640,290],[625,340],[680,305],[685,370],[745,420],[1290,185],[1280,165],[1345,210]];

const FRAME_TOP = 55;
const FRAME_BOTTOM = 1042;

// reading units -> pixels, shared by the three panels
const yUp = d3.scaleLinear().domain([142, 1568]).range([FRAME_TOP, 600]);
const yLow = d3.scaleLinear().domain([0, 1180]).range([550, FRAME_BOTTOM]);

function Scatter({x, up, low, glyph, color, font, size, stroke}: any) {
    const draw = (data: P[], y: (v: number) => number, tag: string) => data.map((d, i) =>
        <text key={tag + i} x={x(d[0])} y={y(d[1])} dy="0.34em">{glyph}</text>);
    return (
        <g fill={color} stroke={color} strokeWidth={stroke} fontFamily={font} fontSize={size} fontWeight="bold" textAnchor="middle">
            {draw(up, yUp, 'u')}
            {draw(low, yLow, 'l')}
        </g>
    );
}

function Panel({left, right, readLeft, readRight, sets, letter, name}: any) {
    const x = d3.scaleLinear().domain([readLeft, readRight]).range([left, right]);
    return (
        <g>
            <g filter="url(#soft)">
                <Scatter x={x} up={sets.oneUp} low={sets.oneLow} glyph="1" color="#ff0000" font="'DejaVu Serif'" size={24} stroke={1} />
                <Scatter x={x} up={sets.zeroUp} low={sets.zeroLow} glyph="0" color="#0000ff" font="'Liberation Serif'" size={27} stroke={1.2} />
            </g>
            <rect x={left} y={FRAME_TOP} width={right - left} height={FRAME_BOTTOM - FRAME_TOP} fill="none" stroke="#222" strokeWidth={2} />
            <text x={(left + right) / 2} y={1167} textAnchor="middle" fontFamily="'Liberation Serif'" fontSize={70} fill="#000">
                <tspan fontWeight="bold" fontSize={75}>({letter})</tspan>
                <tspan dx={22}>{name}</tspan>
            </text>
        </g>
    );
}

const npSets = {zeroUp: npZeroUp, oneUp: npOneUp, zeroLow: npZeroLow, oneLow: npOneLow};
const ipSets = {zeroUp: ipZeroUp, oneUp: ipOneUp, zeroLow: ipZeroLow, oneLow: ipOneLow};

export default function App() {
    return (
        <svg width={3211} height={1205} style={{position: 'absolute', left: 0, top: 0, background: '#fff'}}>
            <defs>
                <filter id="soft" x="-5%" y="-5%" width="110%" height="110%">
                    <feGaussianBlur stdDeviation="0.6" />
                </filter>
            </defs>
            <Panel left={53} right={1043} readLeft={78} readRight={1529} sets={npSets} letter="a" name="NP" />
            <Panel left={1117} right={2107} readLeft={25} readRight={1503} sets={ipSets} letter="b" name="IP" />
            <Panel left={2179} right={3170} readLeft={78} readRight={1529} sets={npSets} letter="c" name="MoCo" />
        </svg>
    );
}
